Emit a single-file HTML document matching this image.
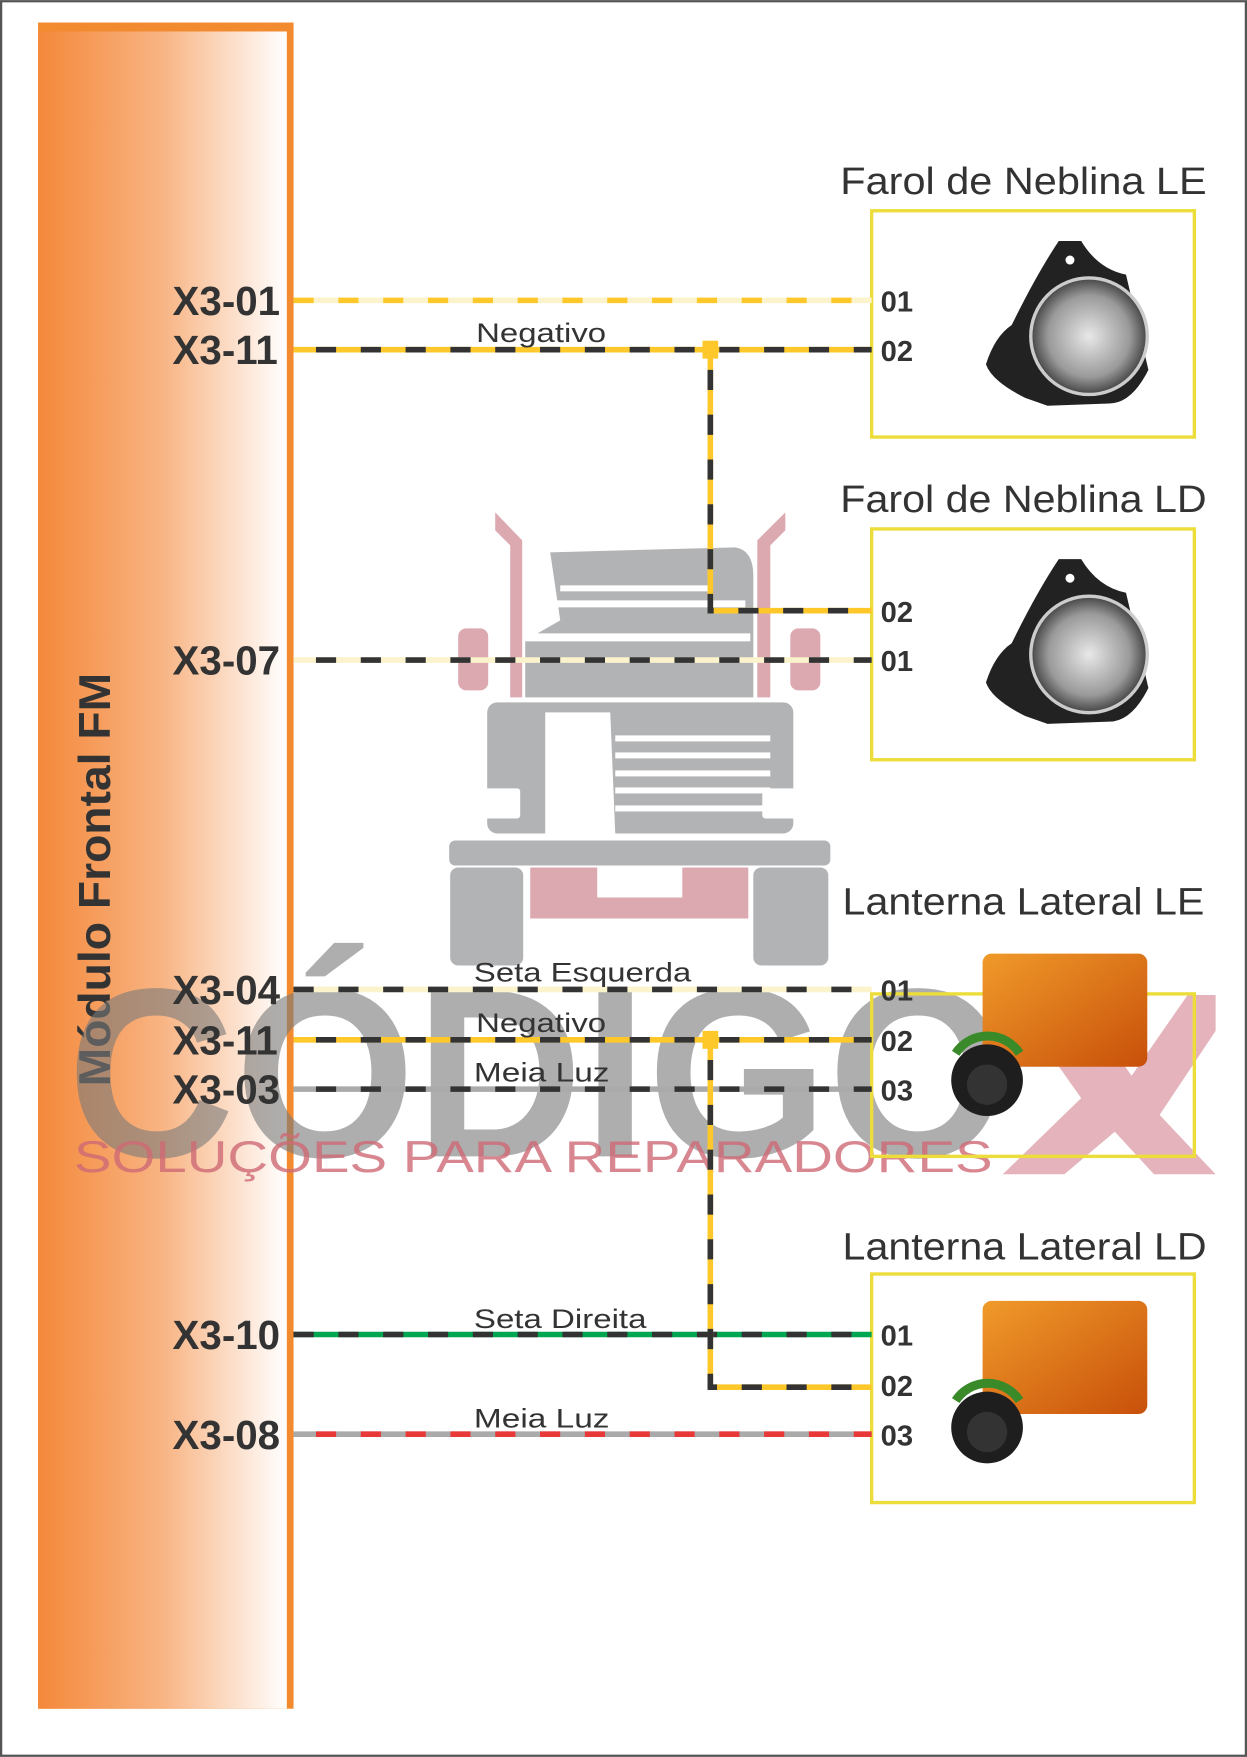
<!DOCTYPE html>
<html><head><meta charset="utf-8">
<style>html,body{margin:0;padding:0;background:#fff}svg{display:block}</style></head>
<body>
<svg width="1247" height="1757" viewBox="0 0 1113 1568" xmlns="http://www.w3.org/2000/svg" font-family="Liberation Sans, sans-serif">
<defs>
<linearGradient id="og" x1="0" x2="1" y1="0" y2="0">
<stop offset="0" stop-color="#f4883a"/><stop offset="0.5" stop-color="#f8b483"/><stop offset="1" stop-color="#ffffff"/>
</linearGradient>
<radialGradient id="lens" cx="0.5" cy="0.5" r="0.5">
<stop offset="0" stop-color="#e8e8e8"/><stop offset="0.7" stop-color="#9a9a9a"/><stop offset="1" stop-color="#444"/>
</radialGradient>
<linearGradient id="amb" x1="0" x2="1" y1="0" y2="1">
<stop offset="0" stop-color="#f09a2a"/><stop offset="1" stop-color="#c8500a"/>
</linearGradient>
</defs>
<rect x="1" y="1" width="1111" height="1566" fill="#fff" stroke="#555" stroke-width="2"/>
<rect x="34" y="20" width="228" height="1505" fill="#f28a30"/>
<rect x="34" y="28" width="222" height="1497" fill="url(#og)"/>
<text transform="translate(98,785) rotate(-90)" text-anchor="middle" font-weight="bold" font-size="40" fill="#333" textLength="369" lengthAdjust="spacingAndGlyphs">Módulo Frontal FM</text>

<g transform="scale(0.8929)" opacity="0.9">
<g fill="#aaabad">
<path d="M550 552 L735 547 Q753 550 753 575 L753 697 L525 697 L525 640 L560 620 Z"/>
<rect x="487" y="702" width="306" height="131" rx="10"/>
<rect x="449" y="840" width="381" height="25" rx="6"/>
<rect x="450" y="867" width="73" height="98" rx="8"/>
<rect x="753" y="867" width="75" height="98" rx="8"/>
</g>
<g fill="#fff">
<rect x="555" y="600" width="190" height="7"/><rect x="560" y="585" width="150" height="6"/>
<rect x="525" y="633" width="225" height="8"/>
<rect x="470" y="788" width="50" height="30" rx="3"/><rect x="762" y="788" width="50" height="30" rx="3"/>
<rect x="615" y="735" width="155" height="6"/><rect x="615" y="752" width="155" height="6"/><rect x="615" y="770" width="155" height="6"/><rect x="615" y="787" width="155" height="6"/><rect x="615" y="805" width="155" height="6"/>
<path d="M545 712 L610 712 L615 833 L545 833 Z"/>
</g>
<g fill="#d9a0a8">
<path d="M495 512 L522 540 L522 697 L510 697 L510 545 L495 530 Z"/>
<path d="M785 512 L757 540 L757 697 L770 697 L770 545 L785 530 Z"/>
<rect x="458" y="628" width="30" height="62" rx="8"/>
<rect x="790" y="628" width="30" height="62" rx="8"/>
<path d="M530 867 H748 V918 H530 Z M597 867 V897 H682 V867 Z" fill-rule="evenodd"/>
</g>
</g>
<text x="60" y="1032" font-weight="bold" font-size="215" fill="#7a7a7a" opacity="0.6" textLength="840" lengthAdjust="spacingAndGlyphs">CÓDIGO</text>
<path d="M900 888 L960 888 L1010 960 L1060 888 L1085 888 L1085 920 L1035 995 L1085 1048 L1030 1048 L995 1010 L950 1048 L895 1048 L965 980 Z" fill="#c5566a" opacity="0.45"/>
<text x="66" y="1046" font-size="40" fill="#cf6a75" opacity="0.8" textLength="820" lengthAdjust="spacingAndGlyphs">SOLUÇÕES PARA REPARADORES</text>

<g fill="none" stroke="#ecdd3a" stroke-width="3">
<rect x="778" y="188" width="288" height="202"/>
<rect x="778" y="472" width="288" height="206"/>
<rect x="778" y="887" width="288" height="145"/>
<rect x="778" y="1137" width="288" height="204"/>
</g>
<g font-size="34" fill="#333">
<text x="750" y="173" textLength="327" lengthAdjust="spacingAndGlyphs">Farol de Neblina LE</text>
<text x="750" y="457" textLength="327" lengthAdjust="spacingAndGlyphs">Farol de Neblina LD</text>
<text x="752" y="816" textLength="323" lengthAdjust="spacingAndGlyphs">Lanterna Lateral LE</text>
<text x="752" y="1124" textLength="325" lengthAdjust="spacingAndGlyphs">Lanterna Lateral LD</text>
</g>

<g>
<path d="M945 215 L965 215 Q980 240 1005 245 L1025 330 Q1010 360 990 360 L935 362 L915 355 Q885 340 880 325 Q888 300 903 290 Q925 245 945 215 Z" fill="#222"/>
<circle cx="972" cy="300" r="52" fill="url(#lens)" stroke="#ccc" stroke-width="3"/>
<circle cx="955" cy="232" r="4" fill="#fff"/>
<path d="M945 499 L965 499 Q980 524 1005 529 L1025 614 Q1010 644 990 644 L935 646 L915 639 Q885 624 880 609 Q888 584 903 574 Q925 529 945 499 Z" fill="#222"/>
<circle cx="972" cy="584" r="52" fill="url(#lens)" stroke="#ccc" stroke-width="3"/>
<circle cx="955" cy="516" r="4" fill="#fff"/>
</g>
<g>
<rect x="877" y="851" width="147" height="101" rx="8" fill="url(#amb)"/>
<circle cx="881" cy="964" r="32" fill="#1e1e1e"/><path d="M853 940 A34 34 0 0 1 910 940" stroke="#3a8a2a" stroke-width="8" fill="none"/>
<circle cx="881" cy="968" r="18" fill="#333"/>
<rect x="877" y="1161" width="147" height="101" rx="8" fill="url(#amb)"/>
<circle cx="881" cy="1274" r="32" fill="#1e1e1e"/><path d="M853 1250 A34 34 0 0 1 910 1250" stroke="#3a8a2a" stroke-width="8" fill="none"/>
<circle cx="881" cy="1278" r="18" fill="#333"/>
</g>

<g stroke-width="5" fill="none">
<line x1="262" y1="268" x2="778" y2="268" stroke="#faf3cc"/>
<line x1="262" y1="268" x2="778" y2="268" stroke="#fec82a" stroke-dasharray="18 22"/>
<line x1="262" y1="312" x2="778" y2="312" stroke="#fec82a"/>
<line x1="282" y1="312" x2="778" y2="312" stroke="#333" stroke-dasharray="18 22"/>
<line x1="262" y1="589" x2="778" y2="589" stroke="#faf3cc"/>
<line x1="282" y1="589" x2="778" y2="589" stroke="#333" stroke-dasharray="18 22"/>
<line x1="262" y1="883" x2="778" y2="883" stroke="#faf3cc"/>
<line x1="262" y1="883" x2="778" y2="883" stroke="#333" stroke-dasharray="18 22"/>
<line x1="262" y1="928" x2="778" y2="928" stroke="#fec82a"/>
<line x1="282" y1="928" x2="778" y2="928" stroke="#333" stroke-dasharray="18 22"/>
<line x1="262" y1="972" x2="778" y2="972" stroke="#aaa"/>
<line x1="282" y1="972" x2="778" y2="972" stroke="#333" stroke-dasharray="18 22"/>
<line x1="262" y1="1191" x2="778" y2="1191" stroke="#00a651"/>
<line x1="262" y1="1191" x2="778" y2="1191" stroke="#333" stroke-dasharray="18 22"/>
<line x1="262" y1="1280" x2="778" y2="1280" stroke="#aaa"/>
<line x1="282" y1="1280" x2="778" y2="1280" stroke="#e83838" stroke-dasharray="18 22"/>
<path d="M634 312 V545 H778" stroke="#fec82a"/>
<path d="M634 330 V545 H778" stroke="#333" stroke-dasharray="18 22"/>
<path d="M634 928 V1238 H778" stroke="#fec82a"/>
<path d="M634 946 V1238 H778" stroke="#333" stroke-dasharray="18 22"/>
</g>
<rect x="627" y="304" width="14" height="16" fill="#fec82a"/>
<rect x="627" y="920" width="14" height="16" fill="#fec82a"/>

<g font-size="24" fill="#333">
<text x="425" y="305" textLength="116" lengthAdjust="spacingAndGlyphs">Negativo</text>
<text x="423" y="876" textLength="194" lengthAdjust="spacingAndGlyphs">Seta Esquerda</text>
<text x="425" y="921" textLength="116" lengthAdjust="spacingAndGlyphs">Negativo</text>
<text x="423" y="965" textLength="121" lengthAdjust="spacingAndGlyphs">Meia Luz</text>
<text x="423" y="1185" textLength="154" lengthAdjust="spacingAndGlyphs">Seta Direita</text>
<text x="423" y="1274" textLength="121" lengthAdjust="spacingAndGlyphs">Meia Luz</text>
</g>
<g font-size="36" font-weight="bold" fill="#333">
<text x="154" y="281" textLength="96" lengthAdjust="spacingAndGlyphs">X3-01</text>
<text x="154" y="325" textLength="94" lengthAdjust="spacingAndGlyphs">X3-11</text>
<text x="154" y="602" textLength="96" lengthAdjust="spacingAndGlyphs">X3-07</text>
<text x="154" y="896" textLength="96" lengthAdjust="spacingAndGlyphs">X3-04</text>
<text x="154" y="941" textLength="94" lengthAdjust="spacingAndGlyphs">X3-11</text>
<text x="154" y="985" textLength="96" lengthAdjust="spacingAndGlyphs">X3-03</text>
<text x="154" y="1204" textLength="96" lengthAdjust="spacingAndGlyphs">X3-10</text>
<text x="154" y="1293" textLength="96" lengthAdjust="spacingAndGlyphs">X3-08</text>
</g>
<g font-size="26" font-weight="bold" fill="#333">
<text x="786" y="278">01</text><text x="786" y="322">02</text>
<text x="786" y="555">02</text><text x="786" y="599">01</text>
<text x="786" y="893">01</text><text x="786" y="938">02</text><text x="786" y="982">03</text>
<text x="786" y="1201">01</text><text x="786" y="1246">02</text><text x="786" y="1290">03</text>
</g>
</svg>
</body></html>
